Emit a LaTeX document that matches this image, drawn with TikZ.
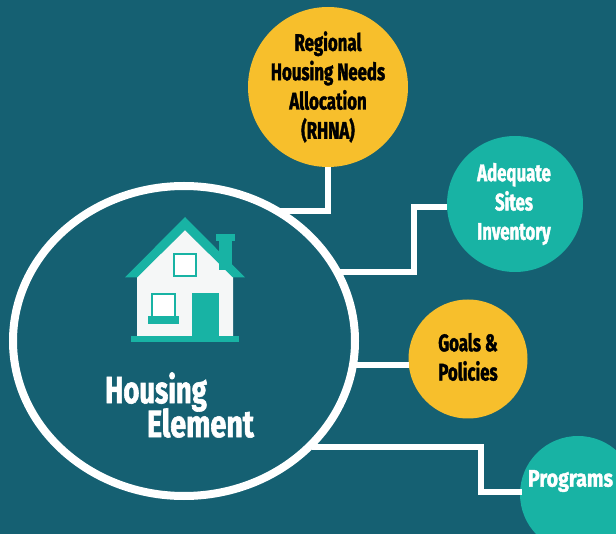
\documentclass[tikz,border=0pt]{standalone}
\usepackage{fontspec}
\usetikzlibrary{shapes.geometric}
\newfontfamily\condfont[FakeStretch=0.70,FakeBold=1.6]{Fira Sans Bold}
\newfontfamily\progfont[FakeStretch=0.82,FakeBold=1.6]{Fira Sans Bold}
\newfontfamily\titlefont[FakeStretch=0.72,FakeBold=1.6]{Fira Sans Bold}
\definecolor{bgc}{HTML}{156072}
\definecolor{tealc}{HTML}{18B3A4}
\definecolor{yelc}{HTML}{F7BF2C}
\definecolor{wallc}{HTML}{F5F7F7}
\tikzset{
  x=1pt,y=-1pt,
  bubble/.style={circle,inner sep=0pt,outer sep=0pt,align=center,font=\condfont\fontsize{24}{29.3}\selectfont},
  yellowb/.style={bubble,fill=yelc,text=black},
  tealb/.style={bubble,fill=tealc,text=white},
  link/.style={draw=white,line width=6pt,line join=miter},
  title/.style={inner sep=0pt,text=white,font=\titlefont\fontsize{38}{38}\selectfont},
  tealfill/.style={fill=tealc,draw=none},
}
\begin{document}
\begin{tikzpicture}
\path[use as bounding box,fill=bgc] (0,0) rectangle (616,534);
\clip (0,0) rectangle (616,534);
% main ellipse
\node[ellipse,draw=white,line width=8pt,minimum width=342pt,minimum height=310pt,inner sep=0pt,outer sep=0pt] (main) at (184,341) {};
% bubbles
\node[yellowb,minimum size=160pt] (rhna) at (328,87) {\raisebox{-1pt}{Regional}\\\raisebox{-1pt}{Housing Needs}\\\raisebox{-1pt}{Allocation}\\\raisebox{-1pt}{(RHNA)}};
\node[tealb,minimum size=136pt] (sites) at (515,204) {\hspace{-2pt}Adequate\\\hspace{-2pt}Sites\\\hspace{-2pt}Inventory};
\node[yellowb,minimum size=119pt] (goals) at (468,359) {\raisebox{4.5pt}{Goals \&}\hspace{-2pt}\\\raisebox{4.5pt}{Policies}\hspace{-2pt}};
\node[tealb,minimum size=116pt] (prog) at (578,494) {};
\node[inner sep=0pt,text=white,font=\progfont\fontsize{24}{24}\selectfont] (progt) at (570.5,481) {Programs};
% connectors
\coordinate (e1) at (280,211);
\coordinate (b1) at (328,211);
\coordinate (e2) at (340,272);
\coordinate (b2a) at (414,272);
\coordinate (b2b) at (414,207);
\coordinate (e3) at (355,365);
\coordinate (e4) at (312,447);
\coordinate (b4a) at (481,447);
\coordinate (b4b) at (481,492);
\draw[link] (rhna.south) -- (b1) -- (e1);
\draw[link] (e2) -- (b2a) -- (b2b) -- (sites.west |- b2b);
\draw[link] (e3) -- (goals.west |- e3);
\draw[link] (e4) -- (b4a) -- (b4b) -- (522,492);
% house
\fill[wallc] (137,277) -- (185,230) -- (233,277) -- (233,336) -- (137,336) -- cycle;
\fill[tealfill] (219,241) rectangle (232,270);
\fill[tealfill] (216,234) rectangle (235,241);
\fill[tealfill] (125,277.5) -- (185,217) -- (245,277.5) -- (233,277.5) -- (185,230) -- (137,277.5) -- cycle;
\fill[tealfill] (131,336) rectangle (239,342);
\fill[tealfill] (192,293) rectangle (219,336);
\draw[tealc,line width=2pt,fill=white] (174,254) rectangle (196,276);
\draw[tealc,line width=2pt,fill=white] (152,294) rectangle (175,317);
\fill[tealfill] (148,316) rectangle (179,324);
% title
\node[title] (t1) at (156,392) {Housing};
\node[title] (t2) at (200.5,423) {\scalebox{1.05}[1]{Element}};
\end{tikzpicture}
\end{document}
